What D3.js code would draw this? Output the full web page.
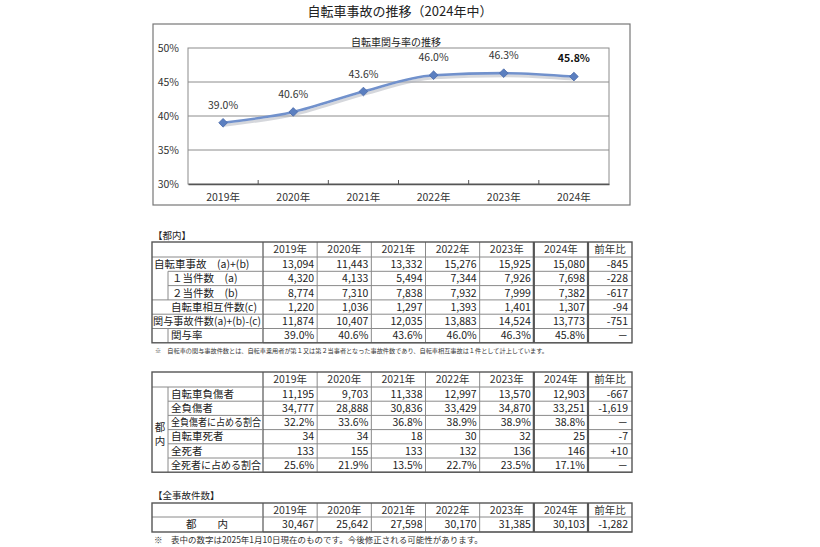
<!DOCTYPE html>
<html>
<head>
<meta charset="utf-8">
<script src="https://cdn.jsdelivr.net/npm/d3@7"></script>
<style>
  body { margin: 0; background: #fff; }
  svg { font-family: "Noto Sans CJK JP", "Noto Sans", sans-serif; }
</style>
</head>
<body>
<div id="chart"></div>
<script>
// ---- data ----
const years = ['2019年', '2020年', '2021年', '2022年', '2023年', '2024年'];
const involvementRate = [39.0, 40.6, 43.6, 46.0, 46.3, 45.8];
const rateTicks = [30, 35, 40, 45, 50];

// 【都内】
const t1Labels = ['自転車事故　(a)+(b)', '１当件数　(a)', '２当件数　(b)', '自転車相互件数(c)', '関与事故件数(a)+(b)-(c)', '関与率'];
const bicycleAccidents = [13094, 11443, 13332, 15276, 15925, 15080];
const firstParty = [4320, 4133, 5494, 7344, 7926, 7698];
const secondParty = [8774, 7310, 7838, 7932, 7999, 7382];
const mutualAccidents = [1220, 1036, 1297, 1393, 1401, 1307];
const involvedAccidents = [11874, 10407, 12035, 13883, 14524, 13773];
const yoy1 = ['-845', '-228', '-617', '-94', '-751', '－'];

const t2Labels = ['自転車負傷者', '全負傷者', '全負傷者に占める割合', '自転車死者', '全死者', '全死者に占める割合'];
const bicycleInjured = [11195, 9703, 11338, 12997, 13570, 12903];
const allInjured = [34777, 28888, 30836, 33429, 34870, 33251];
const injuredShare = [32.2, 33.6, 36.8, 38.9, 38.9, 38.8];
const bicycleDeaths = [34, 34, 18, 30, 32, 25];
const allDeaths = [133, 155, 133, 132, 136, 146];
const deathShare = [25.6, 21.9, 13.5, 22.7, 23.5, 17.1];
const yoy2 = ['-667', '-1,619', '－', '-7', '+10', '－'];

// 【全事故件数】
const allAccidents = [30467, 25642, 27598, 30170, 31385, 30103];
const yoy3 = ['-1,282'];

const W = 820, H = 547;
const svg = d3.select('#chart').append('svg')
  .attr('width', W).attr('height', H)
  .attr('viewBox', [0, 0, W, H]);

const num = d3.format(',');
const pct = v => v.toFixed(1) + '%';

// ---- title ----
svg.append('text')
  .attr('x', 400).attr('y', 16)
  .attr('text-anchor', 'middle')
  .style('font-size', '13px')
  .attr('fill', '#222')
  .text('自転車事故の推移（2024年中）');

// ---- line chart ----
svg.append('rect')
  .attr('x', 153).attr('y', 24).attr('width', 477).attr('height', 181)
  .attr('fill', 'none').attr('stroke', '#777').attr('stroke-width', 1.2);

const plot = { left: 188, right: 609, top: 48, bottom: 184 };
const x = d3.scaleBand().domain(years).range([plot.left, plot.right]);
const y = d3.scaleLinear().domain([30, 50]).range([plot.bottom, plot.top]);

svg.append('text')
  .attr('x', 396).attr('y', 46)
  .attr('text-anchor', 'middle')
  .style('font-size', '10px')
  .attr('fill', '#222')
  .text('自転車関与率の推移');

// gridlines
svg.append('g').selectAll('line')
  .data(rateTicks.slice(1, -1))
  .join('line')
  .attr('x1', plot.left).attr('x2', plot.right)
  .attr('y1', d => y(d)).attr('y2', d => y(d))
  .attr('stroke', '#8c8c8c').attr('stroke-width', 1);

// plot frame
svg.append('rect')
  .attr('x', plot.left).attr('y', plot.top)
  .attr('width', plot.right - plot.left).attr('height', plot.bottom - plot.top)
  .attr('fill', 'none').attr('stroke', '#8c8c8c');

// y axis labels
svg.append('g').selectAll('text')
  .data(rateTicks)
  .join('text')
  .attr('x', 179).attr('y', d => y(d))
  .attr('dy', '0.35em')
  .attr('text-anchor', 'end')
  .style('font-size', '10.5px')
  .attr('fill', '#333')
  .text(d => d + '%');

// x axis
const xAxis = svg.append('g')
  .attr('transform', `translate(0,${plot.bottom})`)
  .call(d3.axisBottom(x).tickSize(0).tickPadding(10));
xAxis.select('.domain').attr('stroke', '#555').attr('stroke-width', 1.3);
xAxis.selectAll('text')
  .style('font-size', '10.5px')
  .style('font-family', '"Noto Sans CJK JP", sans-serif')
  .attr('fill', '#333');
// tick marks between categories
svg.append('g').selectAll('line')
  .data(years.slice(1))
  .join('line')
  .attr('x1', d => x(d)).attr('x2', d => x(d))
  .attr('y1', plot.bottom).attr('y2', plot.bottom - 4)
  .attr('stroke', '#555');

const cx = (d, i) => x(years[i]) + x.bandwidth() / 2;
const line = d3.line().x(cx).y(d => y(d)).curve(d3.curveMonotoneX);

// soft shadow under the line
svg.append('path')
  .datum(involvementRate)
  .attr('d', line)
  .attr('transform', 'translate(1,2.5)')
  .attr('fill', 'none')
  .attr('stroke', '#b3b7bf')
  .attr('stroke-width', 3)
  .attr('opacity', 0.55);

svg.append('path')
  .datum(involvementRate)
  .attr('d', line)
  .attr('fill', 'none')
  .attr('stroke', '#7191cc')
  .attr('stroke-width', 2.6);

const diamond = d3.symbol().type(d3.symbolDiamond2).size(48);
svg.append('g').selectAll('path')
  .data(involvementRate)
  .join('path')
  .attr('d', diamond)
  .attr('transform', (d, i) => `translate(${cx(d, i)},${y(d)})`)
  .attr('fill', '#5b7fc0')
  .attr('stroke', '#4a6aa8')
  .attr('stroke-width', 0.8);

svg.append('g').selectAll('text')
  .data(involvementRate)
  .join('text')
  .attr('x', cx)
  .attr('y', (d, i) => y(d) - (i === 5 ? 15 : 14))
  .attr('text-anchor', 'middle')
  .style('font-size', '10.5px')
  .style('font-weight', (d, i) => i === 5 ? 'bold' : 'normal')
  .attr('fill', (d, i) => i === 5 ? '#111' : '#333')
  .text(d => pct(d));

// ---- tables ----
const labelLeft = 152, labelRight = 263, yoyRight = 632;
const col = d3.scaleBand().domain(years).range([labelRight, 588]);
const FS = '10.5px';
const darkStroke = '#555', lightStroke = '#8a8a8a';

function hline(g, x1, x2, yy, stroke = lightStroke, w = 1) {
  g.append('line').attr('x1', x1).attr('x2', x2).attr('y1', yy).attr('y2', yy)
    .attr('stroke', stroke).attr('stroke-width', w);
}
function vline(g, xx, y1, y2, stroke = lightStroke, w = 1) {
  g.append('line').attr('x1', xx).attr('x2', xx).attr('y1', y1).attr('y2', y2)
    .attr('stroke', stroke).attr('stroke-width', w);
}
// row label, squeezed if it would run past the label column
function rowLabel(xx, yy, txt) {
  const t = svg.append('text')
    .attr('x', xx).attr('y', yy).attr('dy', '0.36em')
    .style('font-size', FS).attr('fill', '#222')
    .text(txt);
  const room = labelRight - xx - 2;
  if (t.node().getComputedTextLength() > room) {
    t.attr('textLength', room).attr('lengthAdjust', 'spacingAndGlyphs');
  }
  return t;
}

// draws header + numeric grid; returns row y function
function drawGrid(top, headerH, rowH, rows, rowVals, yoys) {
  const g = svg.append('g');
  const bottom = top + headerH + rowH * rows;
  const rowY = i => top + headerH + rowH * i;

  // header
  g.append('g').selectAll('text')
    .data(years)
    .join('text')
    .attr('x', d => col(d) + col.bandwidth() / 2)
    .attr('y', top + headerH / 2)
    .attr('dy', '0.36em')
    .attr('text-anchor', 'middle')
    .style('font-size', FS).attr('fill', '#333')
    .text(d => d);
  g.append('text')
    .attr('x', (588 + yoyRight) / 2).attr('y', top + headerH / 2).attr('dy', '0.36em')
    .attr('text-anchor', 'middle')
    .style('font-size', FS).attr('fill', '#333')
    .text('前年比');

  // values
  rowVals.forEach((vals, r) => {
    g.append('g').selectAll('text')
      .data(vals)
      .join('text')
      .attr('x', (d, i) => col(years[i]) + col.bandwidth() - 3)
      .attr('y', rowY(r) + rowH / 2)
      .attr('dy', '0.36em')
      .attr('text-anchor', 'end')
      .style('font-size', FS).attr('fill', '#222')
      .text(d => d);
    g.append('text')
      .attr('x', yoyRight - 4).attr('y', rowY(r) + rowH / 2).attr('dy', '0.36em')
      .attr('text-anchor', 'end')
      .style('font-size', FS).attr('fill', '#222')
      .text(yoys[r]);
  });

  // row lines over numeric area
  d3.range(rows + 1).forEach(r => hline(g, labelRight, yoyRight, rowY(r)));
  // column lines
  years.slice(1).forEach(yr => vline(g, col(yr), top, bottom));
  vline(g, labelRight, top, bottom, darkStroke, 1.2);
  vline(g, 588, top, bottom, darkStroke, 2.2);
  vline(g, col(years[5]), top, bottom, darkStroke, 2.2);
  return { g, rowY, bottom };
}

// table 1
svg.append('text').attr('x', 153).attr('y', 236).attr('dy', '0.35em')
  .style('font-size', '9.5px').attr('fill', '#222').text('【都内】');

const t1Top = 242, t1Head = 15, t1Row = 14.3;
const t1 = drawGrid(t1Top, t1Head, t1Row, 6, [
  bicycleAccidents.map(num), firstParty.map(num), secondParty.map(num),
  mutualAccidents.map(num), involvedAccidents.map(num), involvementRate.map(pct)
], yoy1);
const t1Indent = [154, 172, 172, 171, 153, 171];
t1Labels.forEach((lab, r) => rowLabel(t1Indent[r], t1.rowY(r) + t1Row / 2, lab));
// label column lines
hline(t1.g, labelLeft, labelRight, t1.rowY(0));
hline(t1.g, 168, labelRight, t1.rowY(1));
hline(t1.g, 168, labelRight, t1.rowY(2));
hline(t1.g, labelLeft, labelRight, t1.rowY(3));
hline(t1.g, labelLeft, labelRight, t1.rowY(4));
hline(t1.g, labelLeft, labelRight, t1.rowY(5));
vline(t1.g, 168, t1.rowY(1), t1.rowY(3));
vline(t1.g, 168, t1.rowY(5), t1.rowY(6));
svg.append('rect').attr('x', labelLeft).attr('y', t1Top)
  .attr('width', yoyRight - labelLeft).attr('height', t1.bottom - t1Top)
  .attr('fill', 'none').attr('stroke', darkStroke).attr('stroke-width', 1.4);

svg.append('text')
  .attr('x', 155).attr('y', 351).attr('dy', '0.35em')
  .style('font-size', '5.6px').attr('fill', '#333')
  .attr('textLength', 393).attr('lengthAdjust', 'spacingAndGlyphs')
  .text('※　自転車の関与事故件数とは、自転車乗用者が第１又は第２当事者となった事故件数であり、自転車相互事故は１件として計上しています。');

// table 2
const t2Top = 372, t2Head = 15, t2Row = 14.2;
const t2 = drawGrid(t2Top, t2Head, t2Row, 6, [
  bicycleInjured.map(num), allInjured.map(num), injuredShare.map(pct),
  bicycleDeaths.map(num), allDeaths.map(num), deathShare.map(pct)
], yoy2);
t2Labels.forEach((lab, r) => rowLabel(171, t2.rowY(r) + t2Row / 2, lab));
hline(t2.g, labelLeft, labelRight, t2.rowY(0));
d3.range(1, 6).forEach(r => hline(t2.g, 168, labelRight, t2.rowY(r)));
vline(t2.g, 168, t2.rowY(0), t2.bottom);
svg.append('text').attr('x', 160).attr('y', 427).attr('dy', '0.36em')
  .attr('text-anchor', 'middle').style('font-size', FS).attr('fill', '#222').text('都');
svg.append('text').attr('x', 160).attr('y', 441).attr('dy', '0.36em')
  .attr('text-anchor', 'middle').style('font-size', FS).attr('fill', '#222').text('内');
svg.append('rect').attr('x', labelLeft).attr('y', t2Top)
  .attr('width', yoyRight - labelLeft).attr('height', t2.bottom - t2Top)
  .attr('fill', 'none').attr('stroke', darkStroke).attr('stroke-width', 1.4);

// table 3
svg.append('text').attr('x', 153).attr('y', 496).attr('dy', '0.35em')
  .style('font-size', '9.5px').attr('fill', '#222').text('【全事故件数】');
const t3Top = 503, t3Head = 14, t3Row = 15;
const t3 = drawGrid(t3Top, t3Head, t3Row, 1, [allAccidents.map(num)], yoy3);
hline(t3.g, labelLeft, labelRight, t3.rowY(0));
svg.append('text').attr('x', 207).attr('y', t3.rowY(0) + t3Row / 2).attr('dy', '0.36em')
  .attr('text-anchor', 'middle').style('font-size', FS).attr('fill', '#222').text('都　　内');
svg.append('rect').attr('x', labelLeft).attr('y', t3Top)
  .attr('width', yoyRight - labelLeft).attr('height', t3.bottom - t3Top)
  .attr('fill', 'none').attr('stroke', darkStroke).attr('stroke-width', 1.4);

svg.append('text')
  .attr('x', 154).attr('y', 540).attr('dy', '0.35em')
  .style('font-size', '8.5px').attr('fill', '#333')
  .text('※　表中の数字は2025年1月10日現在のものです。今後修正される可能性があります。');
</script>
</body>
</html>
